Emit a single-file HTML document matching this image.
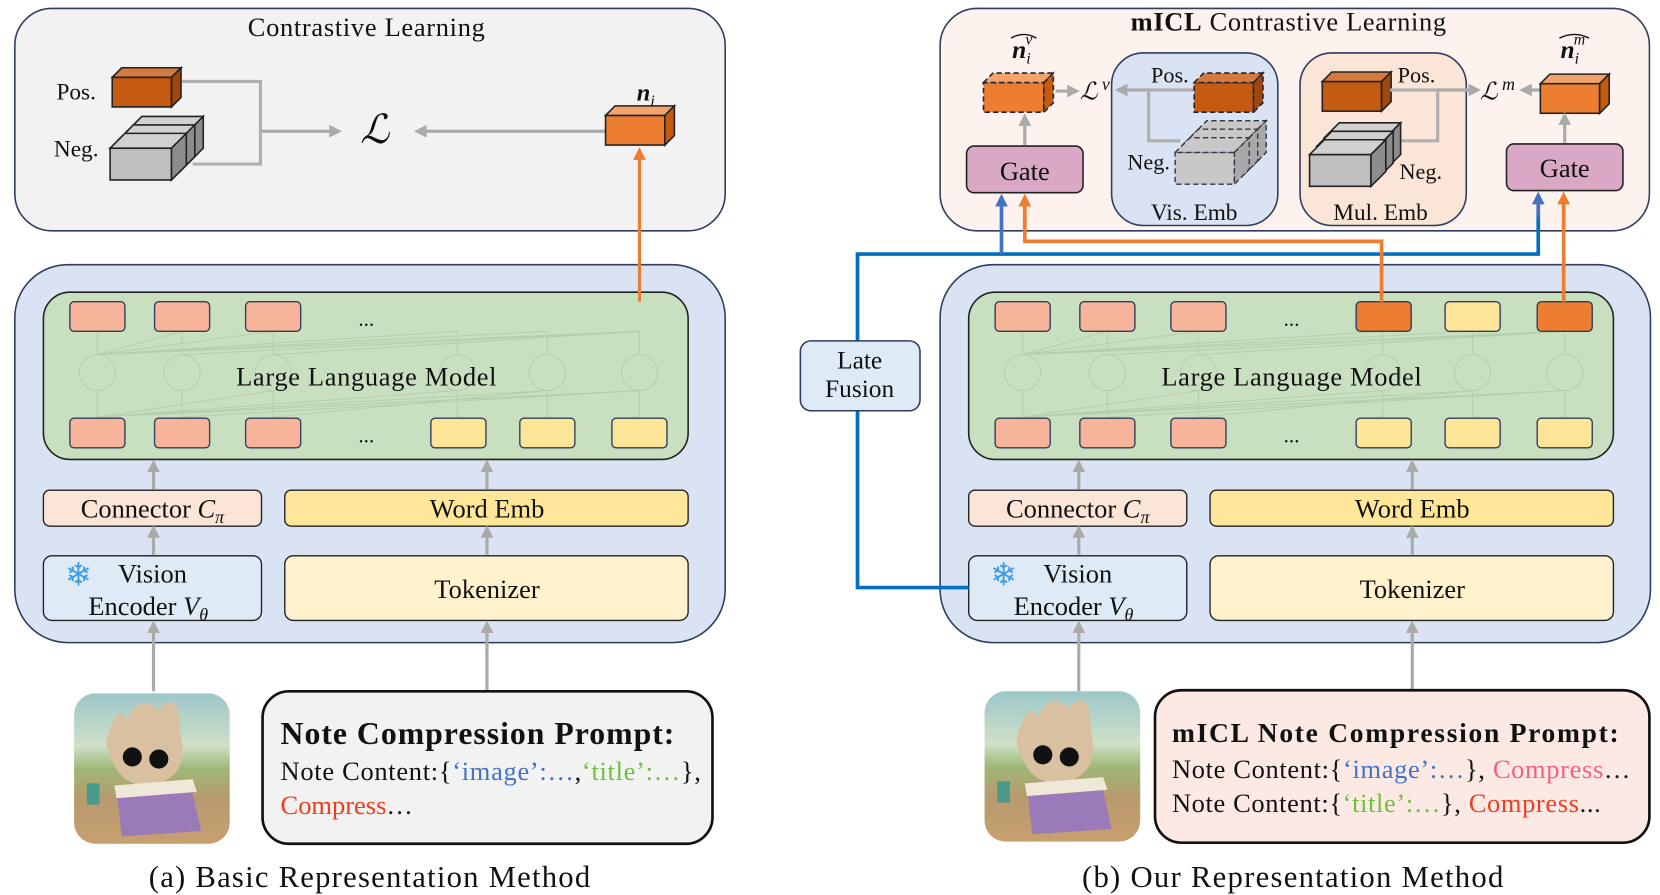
<!DOCTYPE html>
<html><head><meta charset="utf-8"><style>
html,body{margin:0;padding:0;background:#fff;width:1660px;height:895px;overflow:hidden}
svg{display:block}
text{font-family:"Liberation Serif",serif;fill:#111}
</style></head><body>
<svg width="1660" height="895" viewBox="0 0 1568 845.4" xmlns="http://www.w3.org/2000/svg">
<defs>
<marker id="ag" markerWidth="12" markerHeight="12" refX="9" refY="6" orient="auto" markerUnits="userSpaceOnUse"><path d="M0,0 L12,6 L0,12 z" fill="#aaa"/></marker>
<marker id="ao" markerWidth="12" markerHeight="12" refX="9" refY="6" orient="auto" markerUnits="userSpaceOnUse"><path d="M0,0 L12,6 L0,12 z" fill="#ed7d31"/></marker>
<marker id="ab" markerWidth="12" markerHeight="12" refX="9" refY="6" orient="auto" markerUnits="userSpaceOnUse"><path d="M0,0 L12,6 L0,12 z" fill="#4472c4"/></marker>
<linearGradient id="sky" x1="0" y1="0" x2="0" y2="1"><stop offset="0" stop-color="#9cc7c9"/><stop offset="0.35" stop-color="#cfe0c8"/><stop offset="0.5" stop-color="#9fb877"/><stop offset="0.7" stop-color="#b79a6e"/><stop offset="1" stop-color="#c8a070"/></linearGradient>

<g id="llama">
  <rect x="70" y="655" width="147" height="142" rx="20" fill="url(#sky)"/>
  <path d="M100,700 q12,-40 20,-20 q10,-25 30,-10 q20,-20 20,20 q10,40 -20,50 q-40,10 -50,-40z" fill="#d8c0a0"/>
  <circle cx="125" cy="715" r="9" fill="#111"/><circle cx="150" cy="717" r="9" fill="#111"/>
  <path d="M110,745 l70,-5 l10,45 l-75,5z" fill="#9a7ab8"/><path d="M108,742 l74,-6 l4,12 l-76,6z" fill="#efe7d8"/>
  <rect x="82" y="740" width="12" height="20" fill="#4a9a8a"/>
</g>

<g id="lower">
 <rect x="14" y="250" width="671" height="357" rx="50" fill="#dae3f3" stroke="#2f3e5c" stroke-width="1.5"/>
 <rect x="41" y="276" width="609" height="158" rx="25" fill="#c9e0c0" stroke="#222" stroke-width="1.5"/>
 <g stroke="#b5cfae" stroke-width="1" fill="none">
  <circle cx="92" cy="352" r="17"/><circle cx="172" cy="352" r="17"/><circle cx="258" cy="352" r="17"/>
  <circle cx="432" cy="352" r="17"/><circle cx="517" cy="352" r="17"/><circle cx="604" cy="352" r="17"/>
  <path d="M92,394 L92,369 M172,394 L172,369 M258,394 L258,369 M432,394 L432,369 M517,394 L517,369 M604,394 L604,369 M92,335 L92,313 M172,335 L172,313 M258,335 L258,313 M432,335 L432,313 M517,335 L517,313 M604,335 L604,313"/>
  <path d="M92,335 L604,313 M92,335 L517,313 M92,335 L432,313 M92,335 L172,313 M92,335 L258,313 M172,335 L604,313 M258,335 L604,313 M92,394 L604,369 M92,394 L517,369 M92,394 L432,369 M92,394 L258,369 M172,394 L604,369 M258,394 L517,369"/>
 </g>
 <g stroke="#2f3e5c" stroke-width="1.3">
  <rect x="66" y="285" width="52" height="28" rx="4" fill="#f8b49b"/><rect x="146" y="285" width="52" height="28" rx="4" fill="#f8b49b"/><rect x="232" y="285" width="52" height="28" rx="4" fill="#f8b49b"/>
  <rect x="66" y="395" width="52" height="28" rx="4" fill="#f8b49b"/><rect x="146" y="395" width="52" height="28" rx="4" fill="#f8b49b"/><rect x="232" y="395" width="52" height="28" rx="4" fill="#f8b49b"/>
  <rect x="407" y="395" width="52" height="28" rx="4" fill="#fde598"/><rect x="491" y="395" width="52" height="28" rx="4" fill="#fde598"/><rect x="578" y="395" width="52" height="28" rx="4" fill="#fde598"/>
 </g>
 <text x="346" y="308" font-size="20" text-anchor="middle">...</text>
 <text x="346" y="418" font-size="20" text-anchor="middle">...</text>
 <text x="346" y="364" font-size="25" text-anchor="middle" textLength="246">Large Language Model</text>
 <rect x="41" y="463" width="206" height="34" rx="6" fill="#fbe5d6" stroke="#222" stroke-width="1.3"/>
 <text x="144" y="489" font-size="25" text-anchor="middle">Connector <tspan font-style="italic">C</tspan><tspan font-style="italic" font-size="17" dy="5">π</tspan></text>
 <rect x="269" y="463" width="381" height="34" rx="6" fill="#ffe699" stroke="#222" stroke-width="1.3"/>
 <text x="460" y="489" font-size="25" text-anchor="middle">Word Emb</text>
 <rect x="41" y="525" width="206" height="61" rx="8" fill="#deebf7" stroke="#222" stroke-width="1.3"/>
 <text x="74" y="553" font-size="30" text-anchor="middle" style="fill:#3d9ce8">❄</text>
 <text x="144" y="550" font-size="25" text-anchor="middle">Vision</text>
 <text x="140" y="581" font-size="25" text-anchor="middle">Encoder <tspan font-style="italic">V</tspan><tspan font-style="italic" font-size="17" dy="5">θ</tspan></text>
 <rect x="269" y="525" width="381" height="61" rx="8" fill="#fff2cc" stroke="#222" stroke-width="1.3"/>
 <text x="460" y="565" font-size="25" text-anchor="middle">Tokenizer</text>
 <g stroke="#aaa" stroke-width="3" marker-end="url(#ag)">
  <line x1="145" y1="462" x2="145" y2="437"/><line x1="460" y1="462" x2="460" y2="437"/>
  <line x1="145" y1="524" x2="145" y2="499"/><line x1="460" y1="524" x2="460" y2="499"/>
  <line x1="145" y1="653" x2="145" y2="589"/><line x1="460" y1="653" x2="460" y2="589"/>
 </g>
</g>

<g id="cubeO">
 <rect x="0" y="0" width="56" height="28" fill="#ed7d31" stroke="#222" stroke-width="1.5"/>
 <path d="M0,0 L9,-9 L65,-9 L56,0z" fill="#f4a46a" stroke="#222" stroke-width="1.5"/>
 <path d="M56,0 L65,-9 L65,19 L56,28z" fill="#c55a11" stroke="#222" stroke-width="1.5"/>
</g>
<g id="cubeP">
 <rect x="0" y="0" width="56" height="28" fill="#c55a11" stroke="#222" stroke-width="1.5"/>
 <path d="M0,0 L9,-9 L65,-9 L56,0z" fill="#d47a3e" stroke="#222" stroke-width="1.5"/>
 <path d="M56,0 L65,-9 L65,19 L56,28z" fill="#9e4710" stroke="#222" stroke-width="1.5"/>
</g>
<g id="cubeG">
 <rect x="0" y="0" width="58" height="30" fill="#bfbfbf" stroke="#222" stroke-width="1.5"/>
 <path d="M0,0 L14,-14 L72,-14 L58,0z" fill="#d0d0d0" stroke="#222" stroke-width="1.5"/>
 <path d="M58,0 L72,-14 L72,16 L58,30z" fill="#8c8c8c" stroke="#222" stroke-width="1.5"/>
</g>
</defs>

<!-- ===== LEFT ===== -->
<rect x="14" y="8" width="671" height="210" rx="35" fill="#f2f2f2" stroke="#2f3e5c" stroke-width="1.5"/>
<text x="346" y="34" font-size="25" text-anchor="middle" textLength="224">Contrastive Learning</text>
<text x="72" y="94" font-size="22" text-anchor="middle">Pos.</text>
<text x="72" y="148" font-size="22" text-anchor="middle">Neg.</text>
<use href="#cubeP" x="106" y="73"/>
<use href="#cubeG" x="120" y="124"/>
<use href="#cubeG" x="112" y="132"/>
<use href="#cubeG" x="104" y="140"/>
<path d="M172,77 L246,77 L246,155 L182,155" fill="none" stroke="#b0b0b0" stroke-width="3"/>
<line x1="246" y1="124" x2="320" y2="124" stroke="#aaa" stroke-width="3" marker-end="url(#ag)"/>
<text x="354" y="135" font-size="38" font-style="italic" text-anchor="middle">ℒ</text>
<line x1="572" y1="124" x2="394" y2="124" stroke="#aaa" stroke-width="3" marker-end="url(#ag)"/>
<use href="#cubeO" x="572" y="109"/>
<text x="610" y="95" font-size="23" font-weight="bold" font-style="italic" text-anchor="middle">n<tspan font-weight="normal" font-size="15" dy="5">i</tspan></text>
<use href="#lower"/>
<use href="#llama"/>
<line x1="604" y1="285" x2="604" y2="142" stroke="#ed7d31" stroke-width="3" marker-end="url(#ao)"/>
<rect x="248" y="653" width="425" height="144" rx="25" fill="#f2f2f2" stroke="#111" stroke-width="2.5"/>
<text x="265" y="703" font-size="30" font-weight="bold" textLength="372">Note Compression Prompt:</text>
<text x="265" y="737" font-size="25" textLength="397">Note Content:{<tspan style="fill:#4472c4">‘image’:…</tspan>,<tspan style="fill:#70c040">‘title’:…</tspan>},</text>
<text x="265" y="769" font-size="25"><tspan style="fill:#f03c1e">Compress</tspan>…</text>
<text x="349" y="838" font-size="29" text-anchor="middle" textLength="417">(a) Basic Representation Method</text>

<!-- ===== RIGHT ===== -->
<rect x="888" y="8" width="670" height="210" rx="35" fill="#fdf2ee" stroke="#2f3e5c" stroke-width="1.5"/>
<text x="1217" y="29" font-size="25" text-anchor="middle" textLength="298"><tspan font-weight="bold">mICL</tspan> Contrastive Learning</text>
<rect x="1050" y="50" width="157" height="163" rx="30" fill="#dae3f3" stroke="#2f3e5c" stroke-width="1.5"/>
<rect x="1228" y="50" width="157" height="163" rx="30" fill="#fbe5d6" stroke="#2f3e5c" stroke-width="1.5"/>
<text x="1128" y="208" font-size="22" text-anchor="middle">Vis. Emb</text>
<text x="1304" y="208" font-size="22" text-anchor="middle">Mul. Emb</text>
<text x="956" y="55" font-size="24" font-weight="bold" font-style="italic">n<tspan font-weight="normal" font-size="15" dy="5">i</tspan><tspan font-weight="normal" font-size="15" dx="-5" dy="-18">v</tspan></text>
<path d="M955,36 q12,-7 24,0" fill="none" stroke="#111" stroke-width="1.3"/>
<g stroke-dasharray="5,3">
 <rect x="929" y="78" width="57" height="28" fill="#ed7d31" stroke="#223" stroke-width="1.5"/>
 <path d="M929,78 L938,69 L995,69 L986,78z" fill="#f4a46a" stroke="#223" stroke-width="1.5"/>
 <path d="M986,78 L995,69 L995,97 L986,106z" fill="#c55a11" stroke="#223" stroke-width="1.5"/>
</g>
<line x1="997" y1="86" x2="1017" y2="86" stroke="#aaa" stroke-width="3" marker-end="url(#ag)"/>
<text x="1020" y="94" font-size="23" font-style="italic">ℒ<tspan font-size="17" dy="-9"> v</tspan></text>
<path d="M1128,85 L1085,85 L1085,133 L1115,133" fill="none" stroke="#b0b0b0" stroke-width="3"/>
<line x1="1085" y1="85" x2="1056" y2="85" stroke="#aaa" stroke-width="3" marker-end="url(#ag)"/>
<text x="1105" y="78" font-size="21" text-anchor="middle">Pos.</text>
<g stroke-dasharray="5,3">
 <rect x="1128" y="78" width="56" height="28" fill="#c55a11" stroke="#223" stroke-width="1.5"/>
 <path d="M1128,78 L1137,69 L1193,69 L1184,78z" fill="#d47a3e" stroke="#223" stroke-width="1.5"/>
 <path d="M1184,78 L1193,69 L1193,97 L1184,106z" fill="#9e4710" stroke="#223" stroke-width="1.5"/>
 <g fill="#c8c8c8" stroke="#334" stroke-width="1.3">
  <rect x="1126" y="128" width="56" height="30"/><path d="M1126,128 L1140,114 L1196,114 L1182,128z"/><path d="M1182,128 L1196,114 L1196,144 L1182,158z" fill="#a8a8a8"/>
  <rect x="1118" y="136" width="56" height="30"/><path d="M1118,136 L1132,122 L1188,122 L1174,136z"/><path d="M1174,136 L1188,122 L1188,152 L1174,166z" fill="#a8a8a8"/>
  <rect x="1110" y="144" width="56" height="30"/><path d="M1110,144 L1124,130 L1180,130 L1166,144z"/><path d="M1166,144 L1180,130 L1180,160 L1166,174z" fill="#a8a8a8"/>
 </g>
</g>
<text x="1085" y="160" font-size="21" text-anchor="middle">Neg.</text>
<use href="#cubeP" x="1249" y="77"/>
<text x="1338" y="78" font-size="21" text-anchor="middle">Pos.</text>
<path d="M1313,85 L1358,85 L1358,133 L1318,133" fill="none" stroke="#b0b0b0" stroke-width="3"/>
<line x1="1358" y1="85" x2="1396" y2="85" stroke="#aaa" stroke-width="3" marker-end="url(#ag)"/>
<use href="#cubeG" x="1251" y="130"/>
<use href="#cubeG" x="1244" y="138"/>
<use href="#cubeG" x="1237" y="146"/>
<text x="1342" y="169" font-size="21" text-anchor="middle">Neg.</text>
<text x="1398" y="94" font-size="23" font-style="italic">ℒ<tspan font-size="17" dy="-9"> m</tspan></text>
<line x1="1455" y1="85" x2="1438" y2="85" stroke="#aaa" stroke-width="3" marker-end="url(#ag)"/>
<use href="#cubeO" x="1455" y="79"/>
<text x="1474" y="55" font-size="24" font-weight="bold" font-style="italic">n<tspan font-weight="normal" font-size="15" dy="5">i</tspan><tspan font-weight="normal" font-size="15" dx="-5" dy="-18">m</tspan></text>
<path d="M1473,36 q14,-7 28,0" fill="none" stroke="#111" stroke-width="1.3"/>
<rect x="913" y="138" width="110" height="44" rx="7" fill="#d9a8c4" stroke="#222" stroke-width="1.5"/>
<text x="968" y="170" font-size="25" text-anchor="middle">Gate</text>
<rect x="1423" y="136" width="110" height="44" rx="7" fill="#d9a8c4" stroke="#222" stroke-width="1.5"/>
<text x="1478" y="167" font-size="25" text-anchor="middle">Gate</text>
<line x1="968" y1="137" x2="968" y2="110" stroke="#aaa" stroke-width="3" marker-end="url(#ag)"/>
<line x1="1478" y1="135" x2="1478" y2="109" stroke="#aaa" stroke-width="3" marker-end="url(#ag)"/>

<use href="#lower" x="874"/>
<use href="#llama" x="860" y="-2"/>
<rect x="1281" y="285" width="52" height="28" rx="4" fill="#ed7d31" stroke="#2f3e5c" stroke-width="1.3"/>
<rect x="1365" y="285" width="52" height="28" rx="4" fill="#fde598" stroke="#2f3e5c" stroke-width="1.3"/>
<rect x="1452" y="285" width="52" height="28" rx="4" fill="#ed7d31" stroke="#2f3e5c" stroke-width="1.3"/>
<path d="M915,555 L810,555 L810,240 L1453,240 L1453,200" fill="none" stroke="#0070c0" stroke-width="3.5"/>
<line x1="1453" y1="205" x2="1453" y2="184" stroke="#4472c4" stroke-width="3.5" marker-end="url(#ab)"/>
<line x1="946" y1="240" x2="946" y2="186" stroke="#4472c4" stroke-width="3.5" marker-end="url(#ab)"/>
<path d="M1305,285 L1305,228 L968,228 L968,205" fill="none" stroke="#ed7d31" stroke-width="3.5"/>
<line x1="968" y1="210" x2="968" y2="186" stroke="#ed7d31" stroke-width="3.5" marker-end="url(#ao)"/>
<line x1="1477" y1="285" x2="1477" y2="184" stroke="#ed7d31" stroke-width="3.5" marker-end="url(#ao)"/>
<rect x="756" y="322" width="113" height="66" rx="10" fill="#deebf7" stroke="#2f3e5c" stroke-width="1.5"/>
<text x="812" y="348" font-size="24" text-anchor="middle">Late</text>
<text x="812" y="375" font-size="24" text-anchor="middle">Fusion</text>
<rect x="1091" y="652" width="467" height="144" rx="25" fill="#fde9e4" stroke="#111" stroke-width="2.5"/>
<text x="1107" y="701" font-size="26" font-weight="bold" textLength="422">mICL Note Compression Prompt:</text>
<text x="1107" y="735" font-size="25" textLength="433">Note Content:{<tspan style="fill:#4472c4">‘image’:…</tspan>}, <tspan style="fill:#f4607e">Compress</tspan>…</text>
<text x="1107" y="767" font-size="25" textLength="405">Note Content:{<tspan style="fill:#70c040">‘title’:…</tspan>}, <tspan style="fill:#f03c1e">Compress</tspan>...</text>
<text x="1221" y="838" font-size="29" text-anchor="middle" textLength="398">(b) Our Representation Method</text>
</svg>
</body></html>
